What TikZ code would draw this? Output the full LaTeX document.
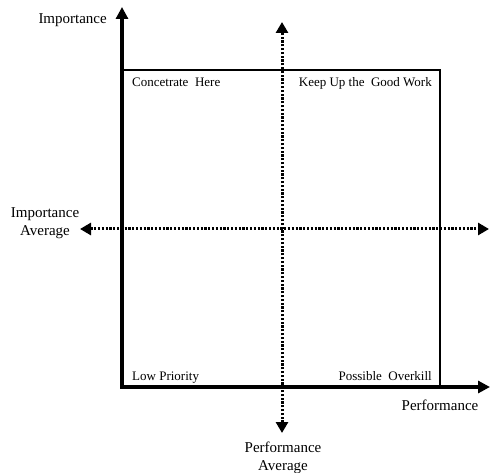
\documentclass[tikz,border=0pt]{standalone}
\usepackage{fontspec}
\setmainfont{Liberation Serif}
\usetikzlibrary{arrows.meta}
\begin{document}
\begin{tikzpicture}[x=1pt,y=-1pt,
  axis/.style={line width=3.8pt,-{Triangle[length=12pt,width=12pt]}},
  avg/.style={line width=3pt,dash pattern=on 2.2pt off 1.6pt,{Triangle[length=11pt,width=12pt]}-{Triangle[length=11pt,width=12pt]}},
  quad/.style={draw,line width=2pt},
  axlabel/.style={font=\fontsize{15}{17.5}\selectfont,inner sep=0pt,align=center},
  qlabel/.style={font=\fontsize{13}{15}\selectfont,inner sep=0pt}]
\useasboundingbox (0,0) rectangle (490,473);
% corners
\coordinate (O) at (122,387);
\coordinate (TL) at (122,70);
\coordinate (TR) at (440,70);
\coordinate (BR) at (440,387);
\coordinate (ytip) at (122,7);
\coordinate (xtip) at (490,387);
\coordinate (vtop) at (282,22);
\coordinate (vbot) at (282,433);
\coordinate (hleft) at (80,229);
\coordinate (hright) at (489,229);
% quadrant box
\draw[quad] (TL) -- (TR) -- (BR);
% average lines
\draw[avg] (vbot) -- (vtop);
\draw[avg] (hleft) -- (hright);
% axes
\draw[axis] (O) -- (ytip);
\draw[axis] ([xshift=-1.9pt]O) -- (xtip);
% labels
\node[axlabel,anchor=east] (imp) at (107,20) {Importance};
\node[axlabel] (perf) at (440,405) {Performance};
\node[axlabel] (impavg) at (45,223) {Importance\\Average};
\node[axlabel] (perfavg) at (283,458) {Performance\\Average};
\node[qlabel,anchor=base west] (q1) at (132,87) {Concetrate\ \ Here};
\node[qlabel,anchor=base east] (q2) at (432,87) {Keep Up the\ \ Good Work};
\node[qlabel,anchor=base west] (q3) at (132,380) {Low Priority};
\node[qlabel,anchor=base east] (q4) at (432,380) {Possible\ \ Overkill};
\end{tikzpicture}
\end{document}
